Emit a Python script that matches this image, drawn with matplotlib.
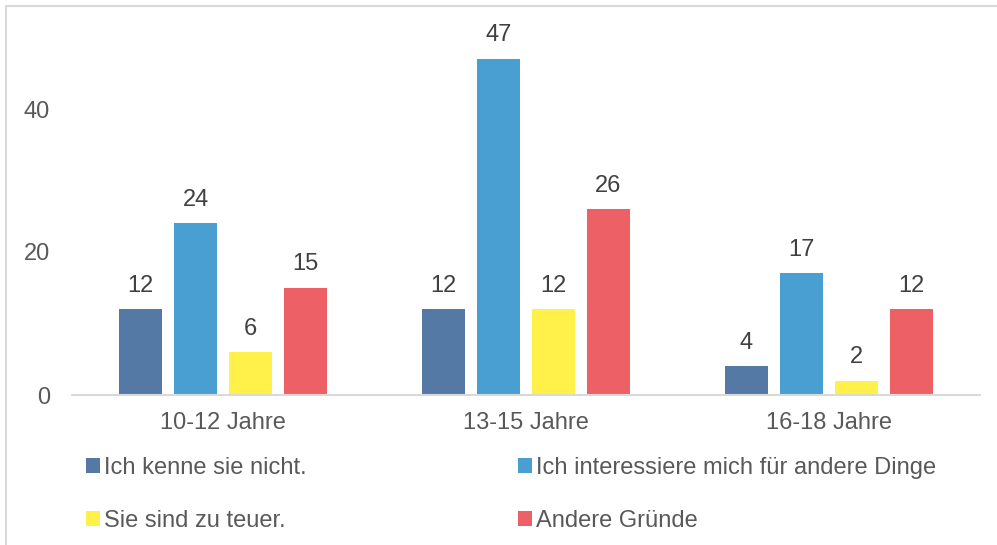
import matplotlib.pyplot as plt
import matplotlib.patches as mpatches
import numpy as np

plt.rcParams['font.family'] = ['Liberation Sans', 'DejaVu Sans']

# data
groups = ["10-12 Jahre", "13-15 Jahre", "16-18 Jahre"]
series = ["Ich kenne sie nicht.", "Ich interessiere mich für andere Dinge",
          "Sie sind zu teuer.", "Andere Gründe"]
kenne_nicht = [12, 12, 4]
andere_dinge = [24, 47, 17]
zu_teuer = [6, 12, 2]
andere_gruende = [15, 26, 12]
colors = ["#5579A5", "#4A9FD2", "#FFF04A", "#EC6066"]

values = [kenne_nicht, andere_dinge, zu_teuer, andere_gruende]

fig = plt.figure(figsize=(9.97, 5.45), dpi=100)
ax = fig.add_axes([72/997, 150/545, 908/997, 357.5/545])

x = np.arange(len(groups))
width = 0.142
step = 0.1817
handles = []
for i, (vals, col, name) in enumerate(zip(values, colors, series)):
    bars = ax.bar(x + (i - 1.5)*step, vals, width, color=col, label=name)
    handles.append(bars)
    for b, v in zip(bars, vals):
        ax.annotate(str(v), (b.get_x() + b.get_width()/2, v),
                    xytext=(0, 9), textcoords="offset points",
                    ha="center", va="bottom", fontsize=17, color="#404040")

ax.set_xlim(-0.5, 2.5)
ax.set_ylim(0, 50)
ax.set_yticks([0, 20, 40])
ax.set_xticks(x)
ax.set_xticklabels(groups)
ax.tick_params(axis="both", length=0, labelsize=17, labelcolor="#595959")
ax.tick_params(axis="y", pad=16)
ax.tick_params(axis="x", pad=12)
for s in ["top", "right", "left"]:
    ax.spines[s].set_visible(False)
ax.spines["bottom"].set_color("#D9D9D9")
ax.spines["bottom"].set_linewidth(1.5)

# legend, row by row like the original
order = [0, 2, 1, 3]
leg = fig.legend([handles[k] for k in order], [series[k] for k in order],
                 ncol=2, loc="upper left", bbox_to_anchor=(86/997, 1 - 457/545),
                 frameon=False, fontsize=17, handlelength=0.58, handleheight=0.6,
                 handletextpad=0.18, columnspacing=8.95, labelspacing=1.3,
                 borderpad=0, borderaxespad=0)
for t in leg.get_texts():
    t.set_color("#595959")

# outer frame
fig.patches.append(mpatches.Rectangle((6/997, -0.01), 1.0, 1 - 6/545 + 0.01,
                                      transform=fig.transFigure, fill=False,
                                      edgecolor="#D9D9D9", linewidth=1.5))

fig.savefig("out.png", dpi=100)
